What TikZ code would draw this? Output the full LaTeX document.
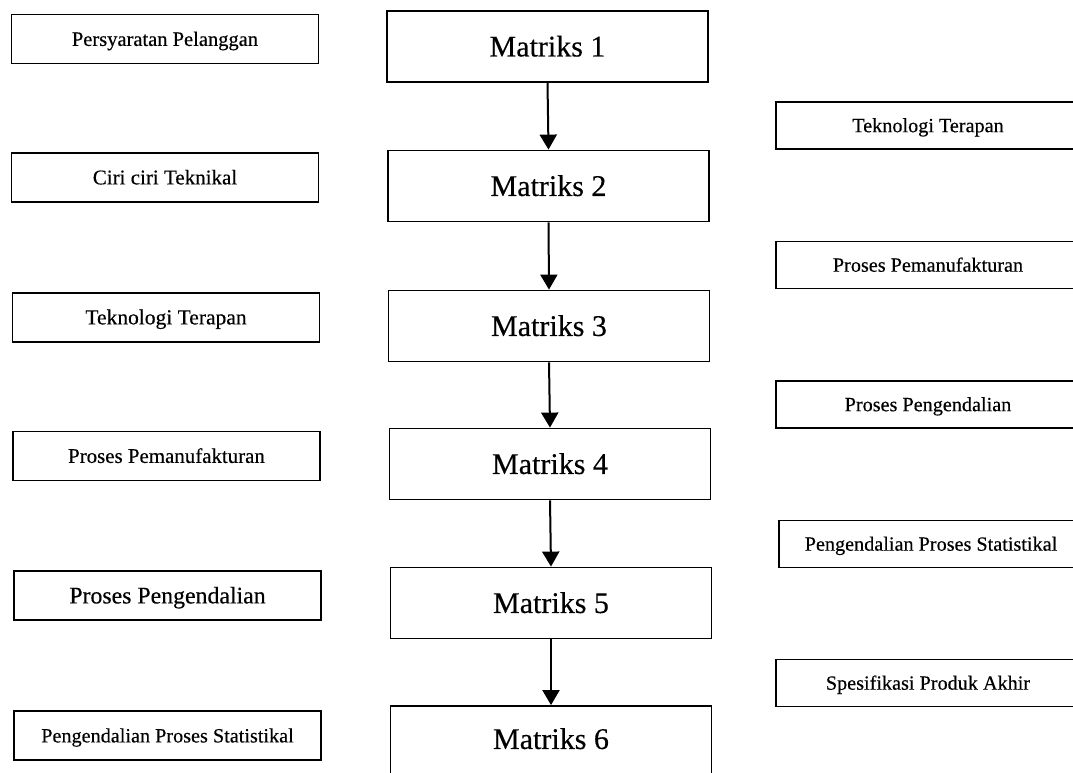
\documentclass[tikz,border=0pt]{standalone}
\usepackage{fontspec}
\setmainfont{Liberation Serif}[FakeBold=0.35]
\usetikzlibrary{arrows.meta}
\tikzset{
  box/.style={draw=black, line width=1.8pt, rectangle, inner sep=0pt, anchor=center, text depth=0pt},
  mbox/.style={box, minimum width=321pt, minimum height=71pt, text height=19.9pt, font=\fontsize{30}{34}\selectfont},
  lbox/.style={box, minimum width=307pt, minimum height=49pt, text height=13.8pt},
  rbox/.style={box, minimum width=304pt, minimum height=47pt, text height=13.4pt, font=\fontsize{20.2}{24}\selectfont},
  flow/.style={line width=2pt, -{Triangle[width=17pt,length=15pt]}}
}
\begin{document}
\begin{tikzpicture}[x=1pt,y=-1pt]
\clip (0,0) rectangle (1073,773);
\fill[white] (0,0) rectangle (1073,773);
% centre column
\node[mbox] (m1) at (547.5,46.5) {Matriks 1};
\node[mbox] (m2) at (548.5,186) {Matriks 2};
\node[mbox] (m3) at (549,326) {Matriks 3};
\node[mbox] (m4) at (550,464) {Matriks 4};
\node[mbox] (m5) at (551,603) {Matriks 5};
\node[mbox, minimum height=72pt] (m6) at (551,742) {};
\node[font=\fontsize{30}{34}\selectfont, inner sep=0pt, text height=19.9pt, text depth=0pt] (m6t) at (551,739) {Matriks 6};
% left column
\node[lbox, font=\fontsize{20.5}{24}\selectfont] (l1) at (165,39) {Persyaratan Pelanggan};
\node[lbox, font=\fontsize{21}{24}\selectfont] (l2) at (165,177.5) {Ciri ciri Teknikal};
\node[lbox, font=\fontsize{21.5}{24}\selectfont] (l3) at (166,317.5) {Teknologi Terapan};
\node[lbox, font=\fontsize{20.9}{24}\selectfont] (l4) at (166.5,456) {Proses Pemanufakturan};
\node[lbox, text height=15.8pt, font=\fontsize{23.8}{26}\selectfont] (l5) at (167.5,595.5) {Proses Pengendalian};
\node[lbox, font=\fontsize{20.2}{24}\selectfont] (l6) at (167.5,735.5) {Pengendalian Proses Statistikal};
% right column
\node[rbox] (r1) at (928,125.5) {Teknologi Terapan};
\node[rbox] (r2) at (928,265) {Proses Pemanufakturan};
\node[rbox] (r3) at (928,404.5) {Proses Pengendalian};
\node[rbox] (r4) at (931,544) {Pengendalian Proses Statistikal};
\node[rbox] (r5) at (928,683) {Spesifikasi Produk Akhir};
% arrows
\draw[flow] (m1.south) -- (m2.north);
\draw[flow] (m2.south) -- (m3.north);
\draw[flow] (m3.south) -- (m4.north);
\draw[flow] (m4.south) -- (m5.north);
\draw[flow] (m5.south) -- (m6.north);
\end{tikzpicture}
\end{document}
